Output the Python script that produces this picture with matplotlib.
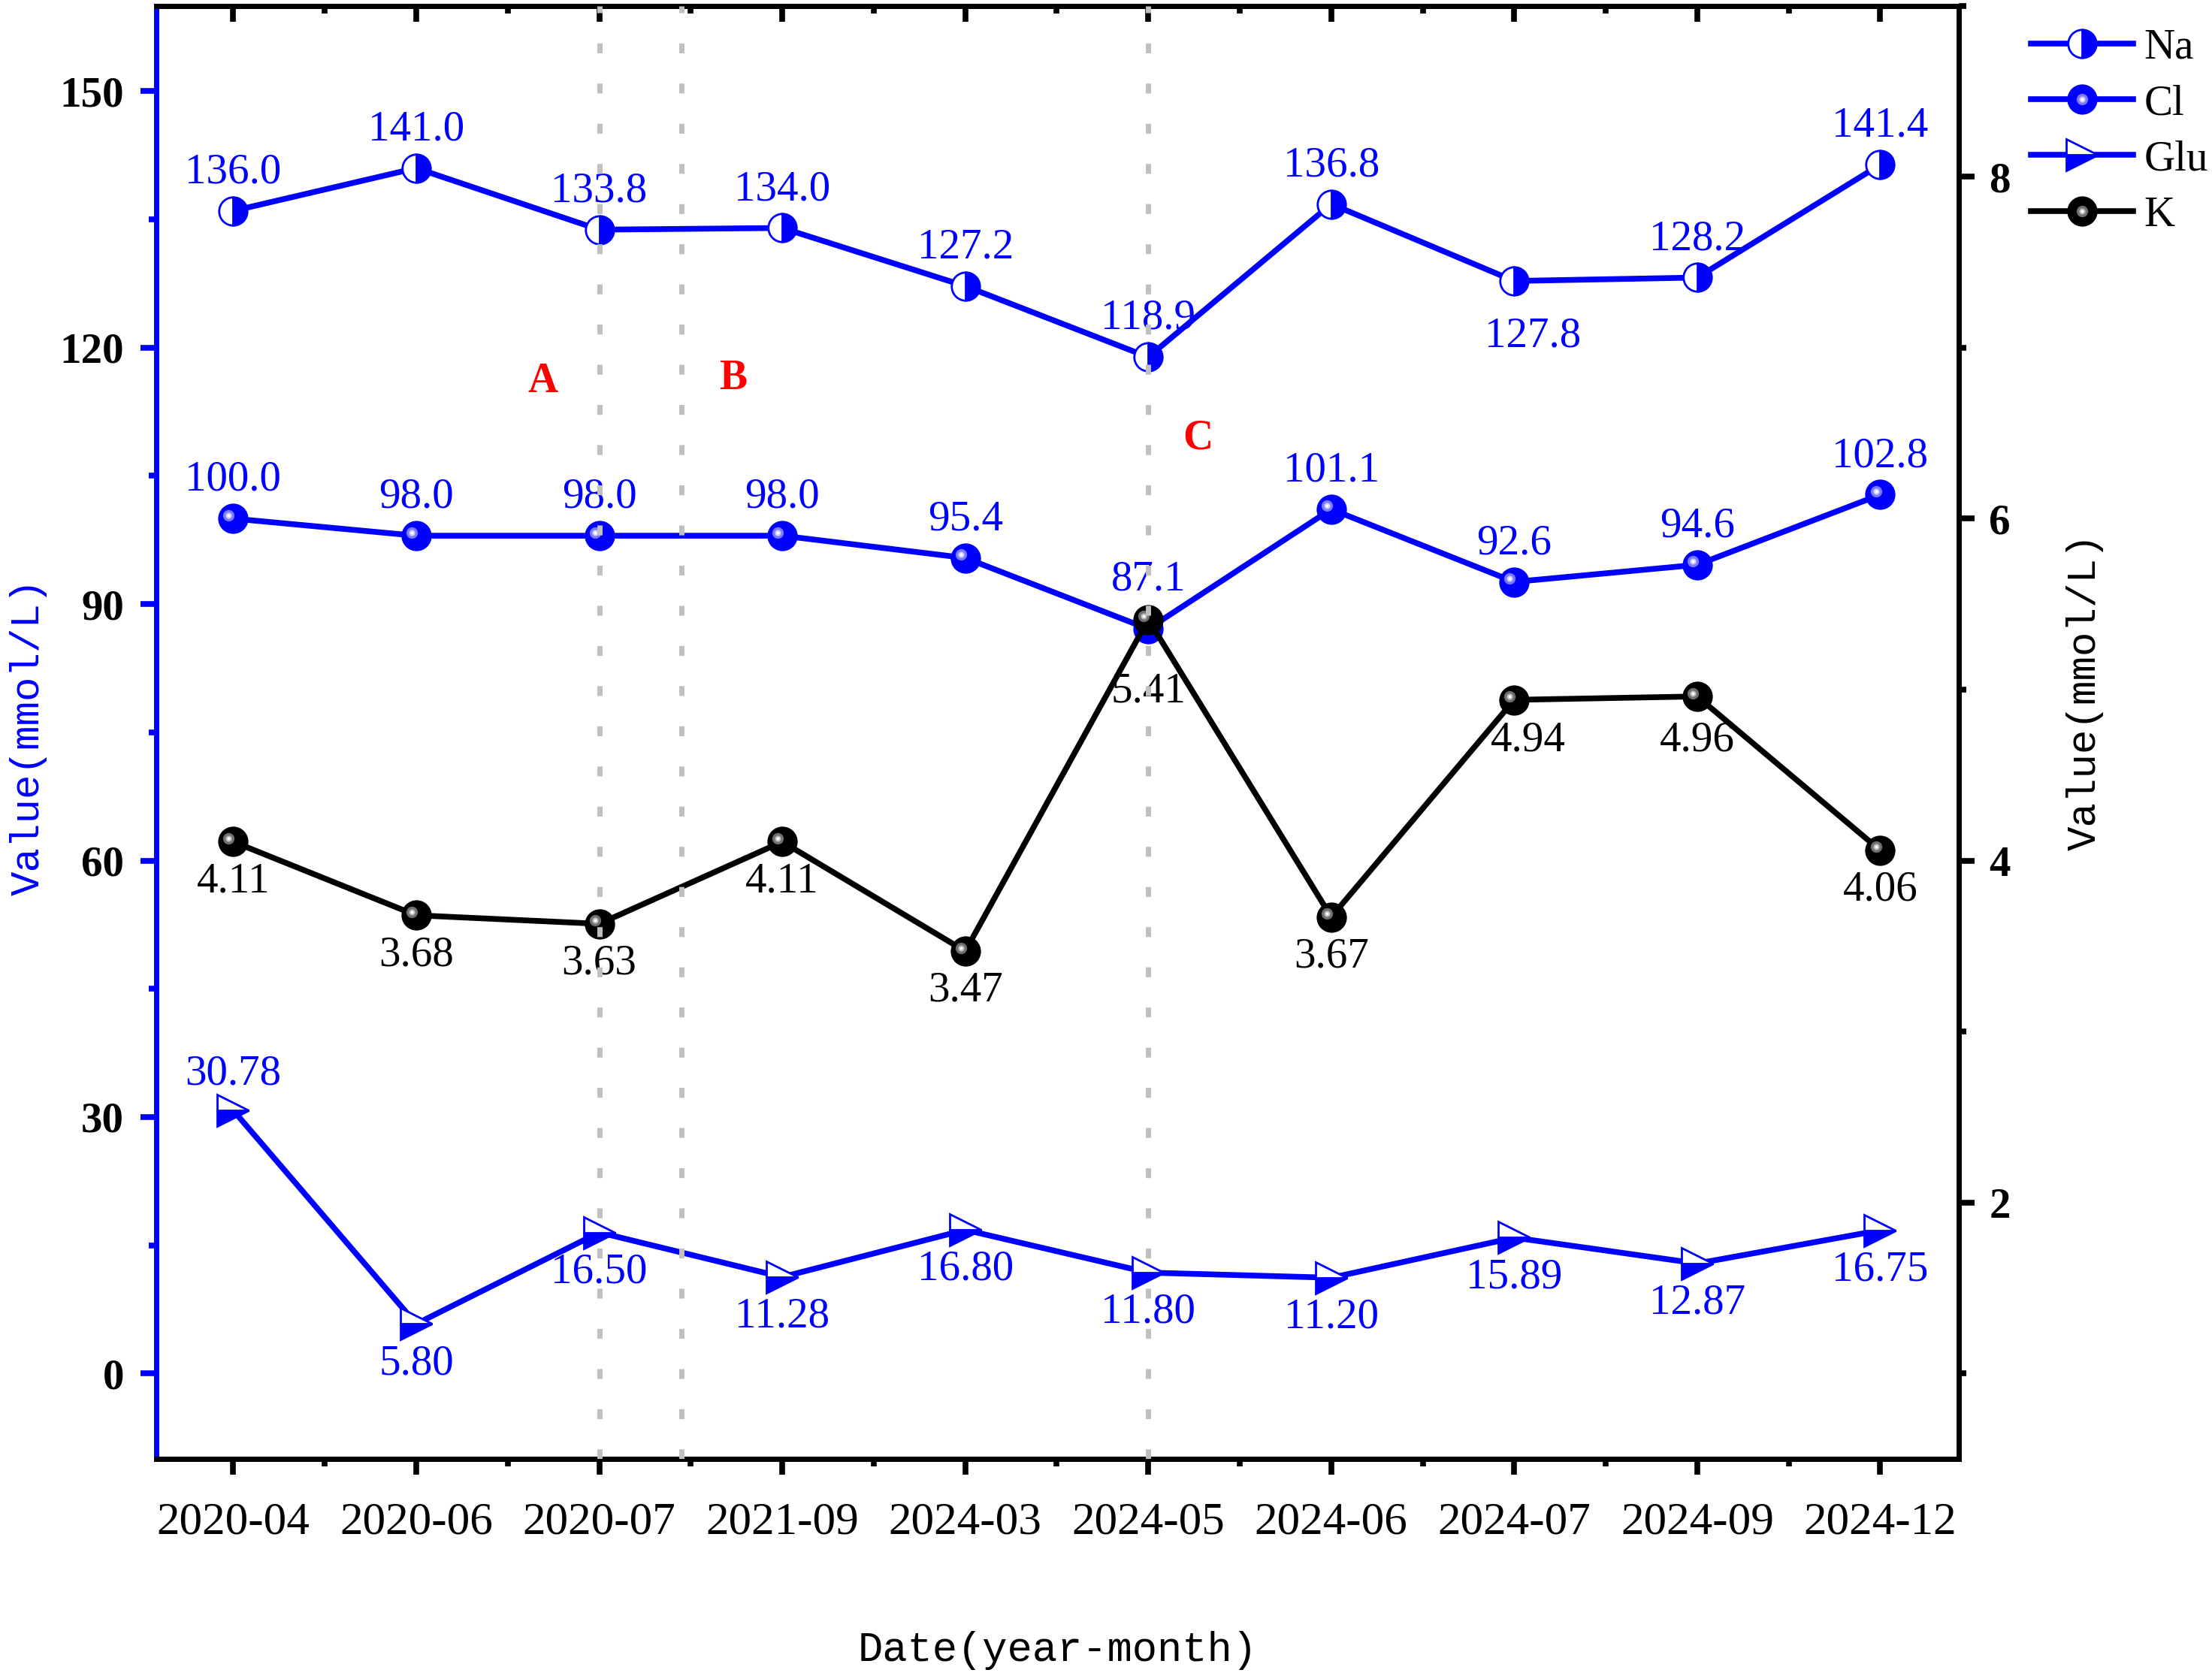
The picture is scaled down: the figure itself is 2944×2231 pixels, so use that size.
import numpy as np
import matplotlib
matplotlib.use("Agg")
import matplotlib.pyplot as plt
from matplotlib.ticker import MultipleLocator, FixedLocator
from matplotlib.transforms import offset_copy
from matplotlib.legend_handler import HandlerTuple

# ---------- data ----------
dates = ["2020-04", "2020-06", "2020-07", "2021-09", "2024-03",
         "2024-05", "2024-06", "2024-07", "2024-09", "2024-12"]
na = [136.0, 141.0, 133.8, 134.0, 127.2, 118.9, 136.8, 127.8, 128.2, 141.4]
cl = [100.0, 98.0, 98.0, 98.0, 95.4, 87.1, 101.1, 92.6, 94.6, 102.8]
glu = [30.78, 5.80, 16.50, 11.28, 16.80, 11.80, 11.20, 15.89, 12.87, 16.75]
k = [4.11, 3.68, 3.63, 4.11, 3.47, 5.41, 3.67, 4.94, 4.96, 4.06]

left_ticks = [0, 30, 60, 90, 120, 150]
right_ticks = [2, 4, 6, 8]
event_lines = [2, 2.45, 5]          # dashed markers (category index)
phase_labels = ["A", "B", "C"]
phase_x = [1.69, 2.73, 5.27]
phase_y = [116.0, 116.4, 109.4]

# label offsets in points (default above/below), a few are moved by hand
na_off = {7: (18, -53)}
cl_off = {5: (0, 47)}
k_off = {5: (0, -69), 7: (13, -39), 8: (0, -42)}
glu_off = {0: (0, 35)}

plt.rcParams["font.family"] = "Liberation Serif"
LW = 5.5
MS = 27
FS = 41

fig = plt.figure(figsize=(29.44, 22.31), dpi=100)
ax = fig.add_axes([0.0707, 0.1295, 0.8149, 0.8671])
ax2 = ax.twinx()

x = np.arange(len(dates))


def sphere_highlight(axis, xs, ys, colors):
    tr = offset_copy(axis.transData, fig=fig, x=-4.3, y=3.2, units="points")
    lines = []
    for size, c in zip([11, 6, 3], colors):
        ln, = axis.plot(xs, ys, ls="none", marker="o", ms=size, mfc=c, mec="none",
                        transform=tr, zorder=4)
        lines.append(ln)
    return lines


ln_na, = ax.plot(x, na, color="blue", lw=LW, marker="o", ms=MS, fillstyle="right",
                 mfc="blue", mfcalt="white", mec="blue", mew=2, zorder=3)
ln_cl, = ax.plot(x, cl, color="blue", lw=LW, marker="o", ms=MS, mfc="blue",
                 mec="blue", mew=2, zorder=3)
hl_cl = sphere_highlight(ax, x, cl, ["#7a7aff", "#c8c8ff", "white"])
ln_glu, = ax.plot(x, glu, color="blue", lw=LW, marker=">", ms=30, fillstyle="bottom",
                  mfc="blue", mfcalt="white", mec="blue", mew=2, zorder=3)
ln_k, = ax2.plot(x, k, color="black", lw=LW, marker="o", ms=MS, mfc="black",
                 mec="black", mew=2, zorder=3)
hl_k = sphere_highlight(ax2, x, k, ["#707070", "#b8b8b8", "white"])

# value labels
for i, v in enumerate(na):
    ax.annotate(f"{v:.1f}", (x[i], v), xytext=na_off.get(i, (0, 37)),
                textcoords="offset points", ha="center", va="center",
                color="blue", fontsize=FS, zorder=5)
for i, v in enumerate(cl):
    ax.annotate(f"{v:.1f}", (x[i], v), xytext=cl_off.get(i, (0, 37)),
                textcoords="offset points", ha="center", va="center",
                color="blue", fontsize=FS, zorder=5)
for i, v in enumerate(glu):
    ax.annotate(f"{v:.2f}", (x[i], v), xytext=glu_off.get(i, (0, -38)),
                textcoords="offset points", ha="center", va="center",
                color="blue", fontsize=FS, zorder=5)
for i, v in enumerate(k):
    ax2.annotate(f"{v:.2f}", (x[i], v), xytext=k_off.get(i, (0, -38)),
                 textcoords="offset points", ha="center", va="center",
                 color="black", fontsize=FS, zorder=5)

for lab, px, py in zip(phase_labels, phase_x, phase_y):
    ax.text(px, py, lab, color="red", fontweight="bold", fontsize=40,
            ha="center", va="center", zorder=6)

# dashed event lines, drawn on top of everything
for xv in event_lines:
    ax2.axvline(xv, color="#c0c0c0", lw=5, dashes=(1.9, 5.8), zorder=10)

# ---------- axes ----------
ax.set_xlim(-0.42, 9.43)
ax.set_ylim(-10, 160)
ax2.set_ylim(0.5, 9)

ax.set_xticks(x)
ax.set_xticklabels(dates, fontsize=44)
ax.xaxis.set_minor_locator(FixedLocator(x[:-1] + 0.5))
ax.tick_params(axis="x", which="major", direction="out", length=15, width=5.5,
               color="black", pad=26)
ax.tick_params(axis="x", which="minor", direction="out", length=7, width=5.5,
               color="black")

# top ticks (inward) through the twin's x axis
ax2.xaxis.set_visible(True)
ax2.xaxis.tick_top()
ax2.tick_params(axis="x", which="major", direction="in", length=15, width=5.5,
                labeltop=False)
ax2.tick_params(axis="x", which="minor", direction="in", length=7, width=5.5,
                labeltop=False)

ax.set_yticks(left_ticks)
ax.set_yticklabels([str(t) for t in left_ticks], fontsize=FS, fontweight="bold")
ax.yaxis.set_minor_locator(MultipleLocator(15))
ax.tick_params(axis="y", which="major", direction="out", length=15, width=5.5,
               color="blue", pad=16)
ax.tick_params(axis="y", which="minor", direction="out", length=7, width=5.5,
               color="blue")

ax2.set_yticks(right_ticks)
ax2.set_yticklabels([str(t) for t in right_ticks], fontsize=FS, fontweight="bold")
ax2.yaxis.set_minor_locator(MultipleLocator(1))
ax2.tick_params(axis="y", which="major", direction="out", length=15, width=5.5,
                color="black", pad=14)
ax2.tick_params(axis="y", which="minor", direction="out", length=7, width=5.5,
                color="black")

for a in (ax, ax2):
    for s in a.spines.values():
        s.set_linewidth(5)
        s.set_color("black")
    a.spines["left"].set_color("blue")
ax.spines["right"].set_visible(False)

ax.set_ylabel("Value(mmol/L)", color="blue", fontfamily="Liberation Mono",
              fontsize=39, va="center")
ax.yaxis.set_label_coords(-0.071, 0.497)
ax2.set_ylabel("Value(mmol/L)", color="black", fontfamily="Liberation Mono",
               fontsize=39, va="center", rotation=90)
ax2.yaxis.set_label_coords(1.070, 0.528)
ax.set_xlabel("Date(year-month)", fontfamily="Liberation Mono", fontsize=40,
              va="center")
ax.xaxis.set_label_coords(0.5, -0.132)

handles = [ln_na, tuple([ln_cl] + hl_cl), ln_glu, tuple([ln_k] + hl_k)]
fig.legend(handles, ["Na", "Cl", "Glu", "K"], loc="upper left",
           bbox_to_anchor=(0.918, 0.983), frameon=False, borderpad=0,
           borderaxespad=0, handlelength=2.4, handletextpad=0.25,
           labelspacing=0.39, fontsize=FS,
           handler_map={tuple: HandlerTuple(ndivide=1)})

fig.savefig("out.png", dpi=100)
